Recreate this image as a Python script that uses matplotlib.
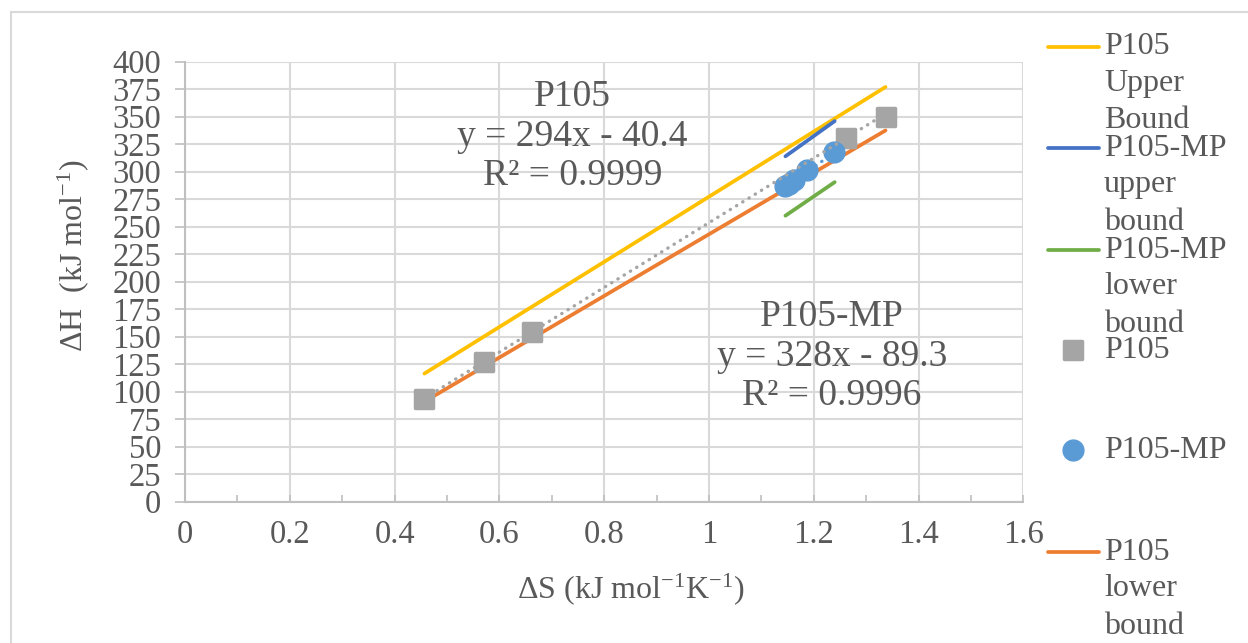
import matplotlib
matplotlib.use("Agg")
import matplotlib.pyplot as plt
import numpy as np
from matplotlib.lines import Line2D
from matplotlib.markers import MarkerStyle
from matplotlib.patches import Rectangle

plt.rcParams["font.family"] = ["Liberation Serif", "DejaVu Serif"]
plt.rcParams["mathtext.fontset"] = "custom"
plt.rcParams["mathtext.rm"] = "Liberation Serif"
plt.rcParams["mathtext.it"] = "Liberation Serif:italic"

# ── Data ─────────────────────────────────────────────────────────────────────
p105_dS = [0.457, 0.571, 0.663, 1.262, 1.337]
p105_dH = [93.5, 127.0, 154.0, 331.0, 350.0]

mp_dS = [1.146, 1.152, 1.162, 1.187, 1.238]
mp_dH = [287.0, 289.0, 292.5, 301.5, 318.0]

p105_upper_dS = [0.457, 1.337]
p105_upper_dH = [116.5, 377.0]
p105_lower_dS = [0.457, 1.337]
p105_lower_dH = [91.0, 337.5]

mp_upper_dS = [1.146, 1.240]
mp_upper_dH = [314.0, 346.0]
mp_lower_dS = [1.146, 1.240]
mp_lower_dH = [260.0, 290.5]

# linear fits (slope, intercept, R²)
p105_fit = (294.0, -40.4, 0.9999)
mp_fit = (328.0, -89.3, 0.9996)

# ── Colors ───────────────────────────────────────────────────────────────────
YELLOW = "#FFC000"
ORANGE = "#ED7D31"
BLUE = "#4472C4"
GREEN = "#70AD47"
GRAY = "#A5A5A5"
LBLUE = "#5B9BD5"
TXT = "#595959"
GRID = "#D9D9D9"
AXIS = "#BFBFBF"

W, H = 1248, 643
fig = plt.figure(figsize=(W / 100, H / 100), dpi=100)
fig.patch.set_facecolor("white")


def fx(px):
    return px / W


def fy(py):
    return 1 - py / H


ax = fig.add_axes([fx(185), fy(501.7), fx(1023.3) - fx(185), fy(61.7) - fy(501.7)])

# chart frame (runs off the right and bottom)
fig.add_artist(Rectangle((fx(11), fy(700)), fx(1400), fy(12) - fy(700),
                         transform=fig.transFigure, fill=False,
                         edgecolor=GRID, linewidth=1.5, clip_on=False))

SQUARE = MarkerStyle("s", joinstyle="round")

# ── Series ───────────────────────────────────────────────────────────────────
lw = 2.7
ax.plot(p105_upper_dS, p105_upper_dH, color=YELLOW, lw=lw, solid_capstyle="round", zorder=3)
ax.plot(mp_upper_dS, mp_upper_dH, color=BLUE, lw=lw, solid_capstyle="round", zorder=3)
ax.plot(mp_lower_dS, mp_lower_dH, color=GREEN, lw=lw, solid_capstyle="round", zorder=3)
ax.plot(p105_lower_dS, p105_lower_dH, color=ORANGE, lw=lw, solid_capstyle="round", zorder=3)

ax.plot(p105_dS, p105_dH, ls="none", marker=SQUARE, ms=13.5, color=GRAY,
        mec=GRAY, mew=2.5, zorder=4)
ax.plot(mp_dS, mp_dH, ls="none", marker="o", ms=15, color=LBLUE,
        mec=LBLUE, zorder=5)

# trendlines
xs = np.array([min(p105_dS), max(p105_dS)])
ax.plot(xs, p105_fit[0] * xs + p105_fit[1], color=GRAY, lw=2.4,
        ls=(0, (0.1, 2.1)), dash_capstyle="round", zorder=6)
xm = np.array([min(mp_dS), max(mp_dS)])
ax.plot(xm, mp_fit[0] * xm + mp_fit[1], color=LBLUE, lw=2.4,
        ls=(0, (0.1, 2.1)), dash_capstyle="round", zorder=6)

# ── Axes styling ─────────────────────────────────────────────────────────────
ax.set_xlim(0, 1.6)
ax.set_ylim(0, 400)
ax.set_xticks(np.arange(0, 1.61, 0.2))
ax.set_xticks(np.arange(0.1, 1.6, 0.2), minor=True)
ax.set_yticks(np.arange(0, 401, 25))
ax.set_xticklabels(["0", "0.2", "0.4", "0.6", "0.8", "1", "1.2", "1.4", "1.6"])
ax.grid(True, which="major", color=GRID, lw=1.5, zorder=0)
ax.set_axisbelow(True)
for s in ["top", "right"]:
    ax.spines[s].set_visible(False)
for s in ["left", "bottom"]:
    ax.spines[s].set_color(AXIS)
    ax.spines[s].set_linewidth(1.5)
ax.tick_params(axis="y", which="major", direction="out", length=7, width=1.2,
               color=AXIS, labelcolor=TXT, labelsize=23.5, pad=10)
ax.tick_params(axis="x", which="both", direction="in", length=5, width=1.2,
               color=AXIS, labelcolor=TXT, labelsize=23.5, pad=13)

ax.set_xlabel("ΔS (kJ mol$^{\\mathregular{-1}}$K$^{\\mathregular{-1}}$)",
              fontsize=23, color=TXT)
ax.xaxis.set_label_coords(0.532, -0.158)
ax.set_ylabel("ΔH  (kJ mol$^{\\mathregular{-1}}$)", fontsize=23, color=TXT)
ax.yaxis.set_label_coords(-0.112, 0.56)

# ── Fit annotations ─────────────────────────────────────────────────────────
ax.text(0.740, 332,
        f"P105\ny = {p105_fit[0]:.0f}x - {abs(p105_fit[1]):.1f}\nR² = {p105_fit[2]:.4f}",
        ha="center", va="center", fontsize=27, color=TXT, linespacing=1.18)
ax.text(1.235, 132,
        f"P105-MP\ny = {mp_fit[0]:.0f}x - {abs(mp_fit[1]):.1f}\nR² = {mp_fit[2]:.4f}",
        ha="center", va="center", fontsize=27, color=TXT, linespacing=1.18)

# ── Legend ───────────────────────────────────────────────────────────────────
legend_items = [
    ("line", YELLOW, "P105\nUpper\nBound", 47),
    ("line", BLUE, "P105-MP\nupper\nbound", 148),
    ("line", GREEN, "P105-MP\nlower\nbound", 250),
    ("s", GRAY, "P105", 350),
    ("o", LBLUE, "P105-MP", 450),
    ("line", ORANGE, "P105\nlower\nbound", 552),
]
for kind, col, label, yy in legend_items:
    if kind == "line":
        fig.add_artist(Line2D([fx(1048), fx(1099)], [fy(yy), fy(yy)],
                              transform=fig.transFigure, color=col, lw=lw,
                              solid_capstyle="round"))
    else:
        fig.add_artist(Line2D([fx(1073)], [fy(yy)], transform=fig.transFigure,
                              ls="none", marker=SQUARE if kind == "s" else "o",
                              color=col, mec=col, mew=2.5 if kind == "s" else 1,
                              ms=13.5 if kind == "s" else 15))
    for i, line in enumerate(label.split("\n")):
        fig.text(fx(1104), fy(yy + i * 37), line, ha="left", va="center",
                 fontsize=23, color=TXT)

fig.savefig("out.png", dpi=100, facecolor="white")
